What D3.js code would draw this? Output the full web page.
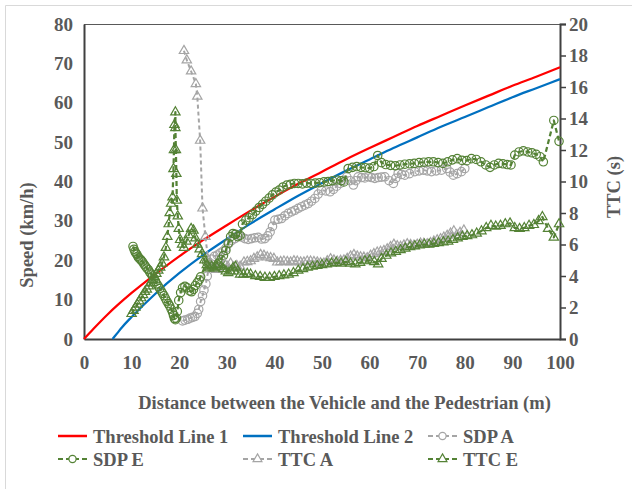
<!DOCTYPE html>
<html><head><meta charset="utf-8">
<script src="https://cdn.jsdelivr.net/npm/d3@7"></script>
<style>
html,body{margin:0;padding:0;background:#fff;}
svg text{font-family:"Liberation Serif","Times New Roman",serif;font-weight:bold;fill:#595959;}
</style></head>
<body>
<svg id="c" width="632" height="489"></svg>
<script>
// ---------- DATA ----------
const xTicks = [0,10,20,30,40,50,60,70,80,90,100];
const speedTicks = [0,10,20,30,40,50,60,70,80];
const ttcTicks = [0,2,4,6,8,10,12,14,16,18,20];

const threshold1 = [[0,0],[2,2.6],[5,6.3],[10,11.7],[15,16.5],[20,21.0],[25,25.1],[30,28.9],[35,32.6],[40,36.1],[45,39.4],[50,42.5],[55,45.6],[60,48.5],[65,51.3],[70,54.1],[75,56.7],[80,59.3],[85,61.8],[90,64.3],[95,66.6],[100,69.0]];
const threshold2 = [[6,0],[7,1.5],[8,3.0],[10,5.6],[15,11.5],[20,16.7],[25,21.3],[30,25.4],[35,29.3],[40,32.9],[45,36.4],[50,39.6],[55,42.7],[60,45.6],[65,48.5],[70,51.2],[75,53.9],[80,56.4],[85,58.9],[90,61.4],[95,63.7],[100,66.0]];

const sdpA = [[20.7,4.6],[21.2,4.8],[21.8,5.0],[22.3,5.3],[22.8,5.5],[23.3,5.7],[23.8,6.5],[24.1,7.5],[24.5,9.5],[24.9,11.0],[25.2,12.4],[25.6,14.0],[25.9,16.0],[26.3,18.5],[26.8,20.3],[27.4,21.0],[28.0,21.3],[28.6,21.8],[29.2,22.3],[29.8,23.0],[30.4,24.2],[31.0,25.0],[31.7,25.5],[32.4,26.4],[33.1,25.9],[33.8,25.5],[34.5,25.3],[35.2,25.5],[35.9,25.7],[36.6,25.8],[37.3,25.4],[38.0,25.5],[38.6,26.2],[39.1,27.2],[39.6,28.6],[40.1,30.2],[40.8,30.4],[41.5,30.6],[42.2,31.3],[42.9,31.9],[43.6,32.3],[44.3,32.7],[45.0,33.2],[45.7,33.6],[46.4,34.0],[47.1,34.4],[47.8,35.0],[48.5,35.7],[49.2,36.8],[49.9,37.8],[50.8,37.6],[51.7,37.4],[52.4,38.0],[53.1,38.8],[53.8,39.5],[54.5,40.3],[55.2,41.2],[55.9,40.2],[56.6,39.1],[57.1,40.2],[57.6,41.2],[58.3,41.0],[59.0,40.9],[59.7,41.2],[60.4,41.0],[61.1,40.8],[61.8,41.0],[62.5,41.1],[63.2,41.2],[64.1,40.2],[65.0,39.5],[65.5,40.8],[66.0,42.1],[66.7,41.8],[67.4,41.6],[68.4,42.0],[69.5,42.5],[70.4,42.7],[71.3,42.9],[72.1,42.7],[73.0,42.5],[74.0,42.7],[75.1,42.9],[76.2,43.3],[76.9,42.4],[77.6,41.6],[78.4,42.0],[79.3,42.5],[80.0,43.3]];

const sdpE = [[10.3,23.5],[10.5,22.8],[10.7,22.2],[10.9,21.8],[11.1,21.5],[11.3,21.0],[11.5,20.6],[11.8,20.3],[12.0,20.0],[12.3,19.6],[12.6,19.0],[12.9,18.5],[13.2,18.0],[13.5,17.6],[13.8,17.0],[14.1,16.5],[14.4,16.0],[14.7,15.3],[15.0,14.6],[15.3,14.0],[15.6,13.4],[15.9,12.8],[16.2,12.2],[16.5,11.6],[16.8,11.0],[17.1,10.3],[17.4,9.6],[17.7,9.0],[18.0,8.4],[18.3,7.6],[18.6,6.8],[18.8,6.0],[19.0,5.2],[19.2,4.9],[19.4,5.3],[19.6,7.0],[19.9,9.8],[20.3,11.8],[20.7,13.0],[21.2,13.4],[21.7,13.0],[22.2,12.2],[22.6,12.0],[23.0,12.6],[23.4,13.6],[23.8,14.3],[24.2,15.0],[24.5,15.8],[25.8,19.5],[26.3,18.8],[26.8,18.2],[27.3,18.0],[27.8,18.5],[28.3,19.3],[28.8,20.2],[29.3,21.2],[29.8,22.5],[30.3,24.3],[30.8,26.0],[31.3,26.8],[31.8,26.6],[32.3,26.0],[32.8,26.3],[33.3,29.2],[34.0,30.2],[34.7,30.8],[35.4,31.6],[36.1,32.5],[36.8,33.4],[37.5,34.2],[38.2,35.0],[38.9,35.8],[39.6,36.6],[40.3,37.3],[41.0,37.8],[41.8,38.6],[42.6,39.1],[43.4,39.3],[44.2,39.5],[45.0,39.5],[45.9,39.4],[46.8,39.6],[47.7,39.5],[48.6,39.6],[49.5,39.7],[50.4,39.9],[51.3,40.0],[52.2,40.2],[53.1,40.4],[54.0,40.2],[54.6,39.9],[55.5,43.3],[56.4,43.6],[57.3,43.8],[58.2,43.6],[59.1,43.5],[60.0,43.4],[60.9,43.8],[61.7,46.6],[62.5,44.8],[63.4,44.3],[64.4,44.1],[65.4,44.0],[66.4,44.2],[67.4,44.4],[68.4,44.5],[69.4,44.6],[70.4,44.8],[71.4,44.9],[72.4,45.0],[73.4,45.0],[74.4,44.8],[75.4,44.6],[76.4,45.0],[77.4,45.5],[78.4,45.8],[79.4,45.4],[80.4,45.3],[81.4,45.8],[82.4,45.6],[83.4,45.0],[84.4,44.2],[85.3,43.6],[86.2,44.2],[87.1,44.6],[88.0,44.5],[88.9,44.3],[89.7,44.2],[90.5,46.7],[91.4,47.5],[92.3,47.8],[93.2,47.5],[94.1,47.3],[95.0,46.9],[95.8,46.3],[96.5,45.0],[98.7,55.5],[99.8,50.2]];

const ttcA = [[21.0,18.3],[21.6,17.7],[22.5,17.0],[23.5,16.2],[23.8,15.4],[24.4,12.6],[24.9,8.3],[25.5,6.5],[26.1,5.0],[26.6,4.6],[27.2,4.5],[27.8,4.4],[28.4,4.5],[29.0,4.6],[29.6,4.75],[30.2,4.6],[30.8,4.8],[31.4,4.55],[32.1,4.65],[32.8,4.6],[33.6,4.87],[34.3,4.9],[35.0,4.95],[35.7,5.1],[36.4,5.2],[37.1,5.35],[37.8,5.3],[38.5,5.2],[39.2,5.15],[39.9,5.1],[40.6,4.87],[41.3,4.9],[42.0,4.93],[42.7,4.9],[43.4,4.87],[44.1,4.95],[44.8,4.93],[45.5,4.87],[46.2,4.87],[46.9,4.93],[47.6,4.93],[48.3,4.9],[49.0,4.87],[49.7,4.82],[50.4,4.8],[51.1,4.95],[51.8,5.08],[52.5,5.0],[53.2,4.93],[53.9,4.97],[54.6,5.0],[55.3,5.1],[56.0,5.25],[56.7,5.35],[57.4,5.25],[58.1,5.2],[58.8,5.18],[59.5,5.14],[60.2,5.3],[60.9,5.4],[61.6,5.5],[62.3,5.55],[63.0,5.6],[63.7,5.7],[64.4,5.85],[65.1,6.0],[65.8,5.9],[66.5,5.86],[67.2,5.95],[67.9,6.03],[68.6,5.98],[69.3,5.93],[70.0,6.0],[70.7,6.07],[71.4,6.05],[72.1,6.03],[72.8,6.1],[73.5,6.2],[74.2,6.28],[74.9,6.35],[75.6,6.45],[76.3,6.56],[77.0,6.7],[77.7,6.85],[78.3,6.6],[79.0,6.75],[79.8,6.9]];

const ttcE = [[10.0,1.6],[10.4,1.8],[10.8,2.0],[11.2,2.2],[11.6,2.4],[12.0,2.6],[12.4,2.8],[12.8,3.0],[13.2,3.15],[13.6,3.35],[14.0,3.55],[14.4,3.75],[14.8,3.95],[15.2,4.15],[15.6,4.35],[16.0,4.55],[16.4,4.8],[16.8,5.2],[17.2,5.8],[17.5,6.5],[17.8,7.3],[18.0,8.0],[18.3,8.6],[18.6,9.0],[18.8,10.8],[18.9,12.0],[19.0,13.6],[19.2,14.4],[19.2,13.4],[19.3,12.0],[19.4,10.5],[19.5,8.8],[19.7,7.8],[19.9,7.0],[20.2,6.3],[20.6,6.0],[21.0,5.8],[21.5,6.2],[22.0,6.6],[22.5,7.0],[23.0,6.9],[23.4,6.4],[23.8,6.0],[24.3,5.7],[24.8,5.4],[25.3,5.0],[25.8,4.7],[26.3,4.5],[26.8,4.6],[27.3,4.5],[27.8,4.6],[28.3,4.7],[28.8,4.6],[29.3,4.45],[29.8,4.3],[30.3,4.2],[30.8,4.3],[31.3,4.5],[31.8,4.6],[32.3,4.3],[32.8,4.1],[33.5,4.1],[34.3,4.15],[35.0,4.1],[36.0,4.0],[37.0,3.95],[38.0,3.9],[39.0,3.9],[40.0,3.95],[41.0,4.0],[42.0,4.05],[43.0,4.1],[44.0,4.2],[45.0,4.35],[46.0,4.45],[47.0,4.55],[48.0,4.6],[49.0,4.65],[50.0,4.7],[51.0,4.75],[52.0,4.8],[53.0,4.85],[54.0,4.8],[55.0,4.9],[56.0,4.8],[57.0,4.75],[58.0,4.85],[59.0,4.95],[60.0,5.0],[61.0,4.9],[61.8,4.75],[62.5,5.1],[63.5,5.3],[64.5,5.45],[65.5,5.55],[66.5,5.65],[67.5,5.75],[68.5,5.85],[69.5,5.9],[70.5,5.95],[71.5,6.0],[72.5,6.0],[73.5,6.05],[74.5,6.1],[75.5,6.15],[76.5,6.2],[77.5,6.3],[78.5,6.4],[79.5,6.5],[80.5,6.55],[81.5,6.6],[82.5,6.7],[83.5,6.85],[84.5,7.05],[85.5,7.2],[86.5,7.15],[87.5,7.2],[88.5,7.3],[89.5,7.35],[90.5,7.05],[91.5,7.0],[92.5,7.05],[93.5,7.2],[94.5,7.25],[95.5,7.5],[96.3,7.75],[97.5,7.0],[98.7,6.45],[99.8,7.3]];

const legendNames = ["Threshold Line 1","Threshold Line 2","SDP A","SDP E","TTC A","TTC E"];

// ---------- STYLE ----------
const RED = "#FF0000", BLUE = "#0070C0", GREEN = "#548235", GRAY = "#A5A5A5", AXIS = "#404040";

const svg = d3.select("#c");
const W = 632, H = 489;
const L = 84, R = 560, T = 24, B = 339;

svg.append("rect").attr("width", W).attr("height", H).attr("fill", "#fff");
svg.append("path").attr("d", `M5.5,${H}V5.5H${W}`).attr("fill", "none").attr("stroke", "#d9d9d9").attr("stroke-width", 1);

const x = d3.scaleLinear().domain([0, 100]).range([L, R]);
const yL = d3.scaleLinear().domain([0, 80]).range([B, T]);
const yR = d3.scaleLinear().domain([0, 20]).range([B, T]);

svg.append("line").attr("x1", L).attr("x2", R).attr("y1", T + 0.5).attr("y2", T + 0.5)
  .attr("stroke", "#595959").attr("stroke-width", 1);

const axL = svg.append("g").attr("transform", `translate(${L},0)`)
  .call(d3.axisLeft(yL).tickValues(speedTicks).tickSize(0).tickPadding(11));
const axB = svg.append("g").attr("transform", `translate(0,${B})`)
  .call(d3.axisBottom(x).tickValues(xTicks).tickSize(0).tickPadding(17));
const axR = svg.append("g").attr("transform", `translate(${R},0)`)
  .call(d3.axisRight(yR).tickValues(ttcTicks).tickSize(6).tickPadding(3));
[axL, axB, axR].forEach(g => {
  g.select(".domain").attr("stroke", AXIS).attr("stroke-width", 2);
  g.selectAll(".tick line").attr("stroke", AXIS).attr("stroke-width", 1.5);
  g.selectAll(".tick text").style("font-size", "19px").attr("fill", "#595959")
   .style("font-family", '"Liberation Serif","Times New Roman",serif').style("font-weight", "bold");
});

const plot = svg.append("g");

function lineFor(ys, curve) {
  return d3.line().x(d => x(d[0])).y(d => ys(d[1])).curve(curve || d3.curveLinear);
}

plot.append("path").datum(threshold1).attr("d", lineFor(yL, d3.curveMonotoneX))
  .attr("fill", "none").attr("stroke", RED).attr("stroke-width", 2.25);
plot.append("path").datum(threshold2).attr("d", lineFor(yL, d3.curveMonotoneX))
  .attr("fill", "none").attr("stroke", BLUE).attr("stroke-width", 2.25);

function series(data, ys, color, dash, marker, width) {
  const g = plot.append("g");
  g.append("path").datum(data).attr("d", lineFor(ys))
    .attr("fill", "none").attr("stroke", color).attr("stroke-width", width)
    .attr("stroke-dasharray", dash).attr("stroke-linejoin", "round");
  if (marker === "circle") {
    g.selectAll("circle").data(data).join("circle")
      .attr("cx", d => x(d[0])).attr("cy", d => ys(d[1])).attr("r", 4.2)
      .attr("fill", "none").attr("stroke", color).attr("stroke-width", 1.2);
  } else {
    const sym = d3.symbol().type(d3.symbolTriangle).size(38);
    g.selectAll("path.m").data(data).join("path").attr("class", "m")
      .attr("transform", d => `translate(${x(d[0])},${ys(d[1])})`).attr("d", sym)
      .attr("fill", "none").attr("stroke", color).attr("stroke-width", 1.2);
  }
}

series(sdpA, yL, GRAY, "4,3", "circle", 2);
series(sdpE, yL, GREEN, "5,3", "circle", 2.25);
series(ttcA, yR, GRAY, "4,3", "triangle", 2);
series(ttcE, yR, GREEN, "5,3", "triangle", 2.25);

svg.append("text").attr("transform", "translate(33,235) rotate(-90)")
  .attr("text-anchor", "middle").style("font-size", "18.5px").text("Speed (km/h)");
svg.append("text").attr("transform", "translate(620,187) rotate(-90)")
  .attr("text-anchor", "middle").style("font-size", "18.5px").text("TTC (s)");
svg.append("text").attr("x", 344.5).attr("y", 409)
  .attr("text-anchor", "middle").style("font-size", "18.5px")
  .text("Distance between the Vehicle and the Pedestrian (m)");

const leg = [
  {name: legendNames[0], color: RED, dash: null, marker: null, x: 58, y: 436},
  {name: legendNames[1], color: BLUE, dash: null, marker: null, x: 243, y: 436},
  {name: legendNames[2], color: GRAY, dash: "5,3", marker: "circle", x: 428, y: 436},
  {name: legendNames[3], color: GREEN, dash: "5,3", marker: "circle", x: 58, y: 459},
  {name: legendNames[4], color: GRAY, dash: "5,3", marker: "triangle", x: 243, y: 459},
  {name: legendNames[5], color: GREEN, dash: "5,3", marker: "triangle", x: 428, y: 459}
];
leg.forEach(d => {
  const g = svg.append("g");
  g.append("line").attr("x1", d.x).attr("x2", d.x + 29).attr("y1", d.y).attr("y2", d.y)
    .attr("stroke", d.color).attr("stroke-width", d.marker ? 2 : 2.5)
    .attr("stroke-dasharray", d.dash);
  const cx = d.x + 14.5;
  if (d.marker === "circle") {
    g.append("circle").attr("cx", cx).attr("cy", d.y).attr("r", 3.6)
      .attr("fill", "#fff").attr("stroke", d.color).attr("stroke-width", 1.2);
  } else if (d.marker === "triangle") {
    g.append("path").attr("transform", `translate(${cx},${d.y})`)
      .attr("d", d3.symbol().type(d3.symbolTriangle).size(34))
      .attr("fill", "#fff").attr("stroke", d.color).attr("stroke-width", 1.2);
  }
  g.append("text").attr("x", d.x + 35).attr("y", d.y + 7).style("font-size", "18.5px").text(d.name);
});
</script>
</body></html>
